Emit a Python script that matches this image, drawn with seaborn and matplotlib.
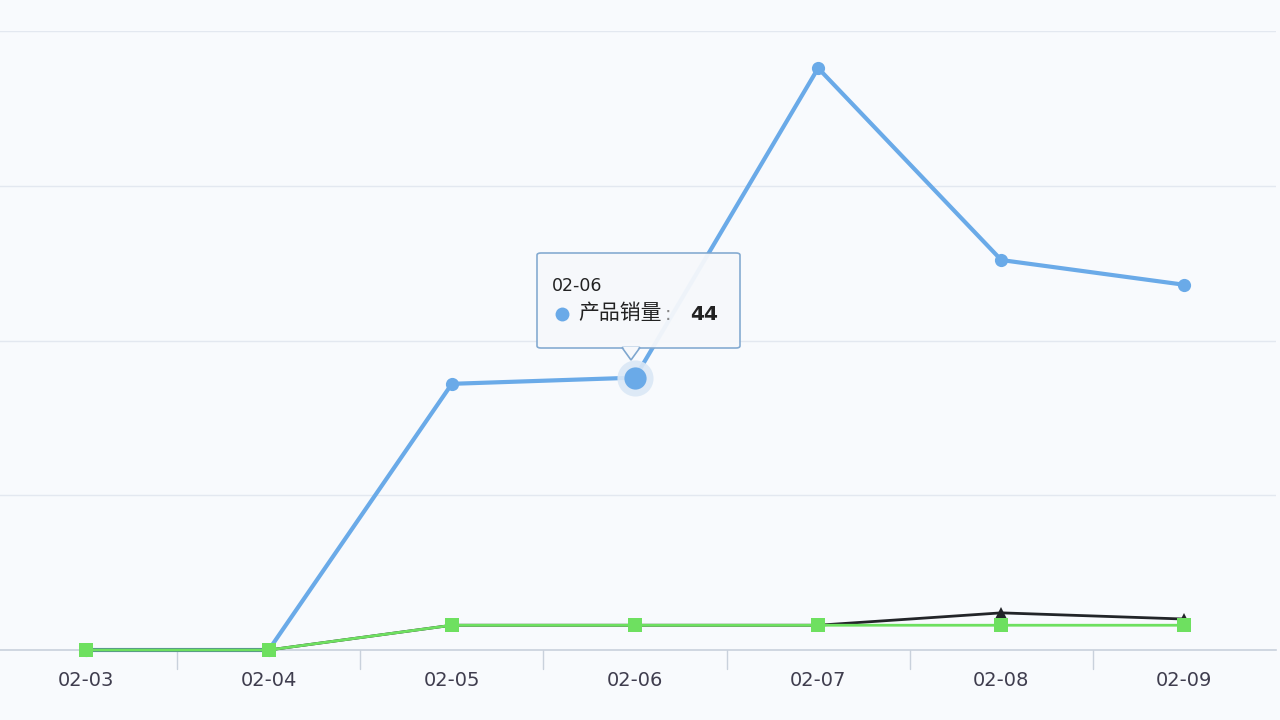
import matplotlib
matplotlib.use("Agg")
import matplotlib.pyplot as plt
import seaborn as sns
import pandas as pd
import numpy as np
from matplotlib.patches import FancyBboxPatch, Polygon
from matplotlib.lines import Line2D

dates = ["02-03", "02-04", "02-05", "02-06", "02-07", "02-08", "02-09"]
sales_blue = [0, 0, 43, 44, 94, 63, 59]
series_black = [0, 0, 4, 4, 4, 6, 5]
series_green = [0, 0, 4, 4, 4, 4, 4]
y_ticks = [0, 25, 50, 75, 100]

sns.set_theme(style="white")
plt.rcParams['font.family'] = ['DejaVu Sans', 'Noto Sans CJK SC']

fig = plt.figure(figsize=(12.8, 7.2), dpi=100)
bg = "#f8fafd"
fig.patch.set_facecolor(bg)
ax = fig.add_axes([-6/1280, 70/720, 1282/1280, 619/720])
ax.set_facecolor(bg)

x = np.arange(len(dates))
df = pd.DataFrame({"x": np.concatenate([x, x, x]),
                   "y": sales_blue + series_black + series_green,
                   "s": ["blue"] * 7 + ["black"] * 7 + ["green"] * 7})

blue = "#6aaae8"
green = "#6ee060"
black = "#222428"

for yv in y_ticks[1:]:
    ax.axhline(yv, color="#e3e8f0", lw=1.0, zorder=0)

sns.lineplot(data=df[df.s == "blue"], x="x", y="y", color=blue, lw=3,
             marker="o", markersize=9.5, markeredgewidth=0, ax=ax, zorder=3,
             clip_on=False)
sns.lineplot(data=df[df.s == "black"], x="x", y="y", color=black, lw=2,
             marker="^", markersize=8, markeredgewidth=0, ax=ax, zorder=4,
             clip_on=False)
sns.lineplot(data=df[df.s == "green"], x="x", y="y", color=green, lw=2,
             marker="s", markersize=10, markeredgewidth=0, ax=ax, zorder=5,
             clip_on=False)

# highlighted point
ax.plot([3], [sales_blue[3]], marker="o", markersize=26, color="#dbe8f6",
        markeredgewidth=0, zorder=6, alpha=0.9)
ax.plot([3], [sales_blue[3]], marker="o", markersize=16, color=blue,
        markeredgewidth=0, zorder=7)

ax.set_xlim(-0.5, len(dates) - 0.5)
ax.set_ylim(0, 100)
ax.set_xticks(x)
ax.set_xticklabels(dates, fontsize=14, color="#3f3d4e")
ax.set_yticks([])
ax.set_xlabel("")
ax.set_ylabel("")
for s in ["top", "right", "left"]:
    ax.spines[s].set_visible(False)
ax.spines["bottom"].set_color("#c9d1dc")
ax.spines["bottom"].set_linewidth(1.2)
ax.tick_params(axis="x", length=0, pad=15)
for b in np.arange(0.5, len(dates) - 0.5, 1):
    ax.plot([b, b], [0, -3], color="#c9d1dc", lw=1, clip_on=False, zorder=1)

# tooltip
def F(xp, yp):
    return (xp / 1280, 1 - yp / 720)

box = FancyBboxPatch(F(537, 348), 203 / 1280, 95 / 720,
                     boxstyle="round,pad=0,rounding_size=0.003",
                     transform=fig.transFigure, facecolor="#f6f8fb",
                     edgecolor="#7fa7cf", lw=1.2, zorder=10, alpha=0.95)
fig.add_artist(box)
tri = Polygon([F(622, 347.5), F(640, 347.5), F(631, 360)], closed=True,
              transform=fig.transFigure, facecolor="#f6f8fb",
              edgecolor="#7fa7cf", lw=1.2, zorder=10)
fig.add_artist(tri)
tri2 = Polygon([F(623, 347), F(639, 347), F(631, 357)], closed=True,
               transform=fig.transFigure, facecolor="#f6f8fb",
               edgecolor="none", zorder=11)
fig.add_artist(tri2)
fig.text(*F(552, 286), "02-06", fontsize=12.5, color="#222",
         va="center", ha="left", zorder=12)
fig.add_artist(Line2D([562 / 1280], [1 - 314 / 720], marker="o",
                      markersize=10, color=blue, markeredgewidth=0,
                      transform=fig.transFigure, zorder=12))
fig.text(*F(578, 313), "产品销量", fontsize=15, color="#222",
         family=['Noto Sans CJK SC', 'DejaVu Sans'],
         va="center", ha="left", zorder=12)
fig.text(*F(665, 314), ":", fontsize=14, color="#888",
         va="center", ha="left", zorder=12)
fig.text(*F(690, 314), "44", fontsize=14.5, color="#222",
         fontweight="bold", va="center", ha="left", zorder=12)

fig.savefig("out.png", dpi=100, facecolor=bg)
